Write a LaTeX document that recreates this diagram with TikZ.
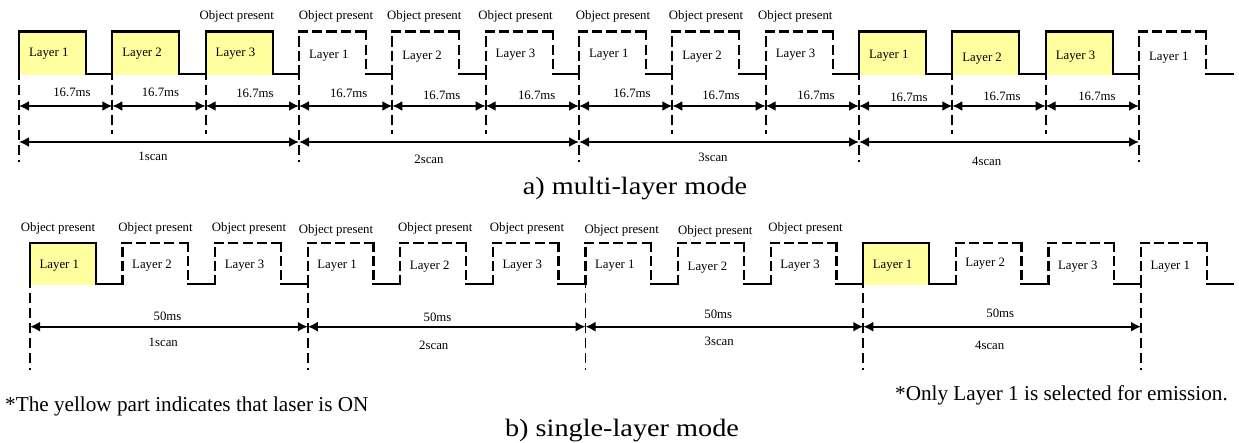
\documentclass[tikz,border=0pt]{standalone}
\usepackage{fontspec}
\usepackage{graphicx}
\setmainfont{Liberation Serif}
\usetikzlibrary{arrows.meta}
\definecolor{laseron}{RGB}{255,255,160}
\begin{document}
\begin{tikzpicture}[x=1pt,y=-1pt,
  wave/.style={line width=2.3pt, line join=miter, line cap=rect},
  dwave/.style={line width=2.3pt, dash pattern=on 7.8pt off 6.5pt, line cap=rect},
  guide/.style={line width=1.9pt, dash pattern=on 10pt off 5pt, dash phase=4pt},
  dim/.style={line width=1.8pt, {Latex[length=10pt,width=10pt]}-{Latex[length=10pt,width=10pt]}},
  small/.style={font=\fontsize{12.8}{15}\selectfont, inner sep=0pt, anchor=base},
  note/.style={font=\fontsize{21.2}{25}\selectfont, inner sep=0pt},
  capt/.style={font=\fontsize{25}{30}\selectfont, inner sep=0pt, anchor=base},
]
\useasboundingbox (0,0) rectangle (1239,443);

% ================= a) multi-layer mode =================
\def\ttop{31.5}
\def\tlow{74}
% yellow fills
\foreach \k in {0,1,2,9,10,11}{
  \pgfmathsetmacro\xs{19+93.333*\k}
  \pgfmathsetmacro\xe{\xs+67}
  \fill[laseron] (\xs,\ttop) rectangle (\xe,\tlow+1);
}
% guides (vertical dashed)
\foreach \k in {0,...,12}{
  \pgfmathsetmacro\xs{19+93.333*\k}
  \pgfmathsetmacro\ye{mod(\k,3)==0 ? 162 : 134}
  \coordinate (tg\k) at (\xs,\tlow);
  \coordinate (ta\k) at (\xs,106);
  \coordinate (tb\k) at (\xs,142);
  \draw[guide] (tg\k) -- (\xs,\ye);
}
% low solid segments
\foreach \k in {0,...,12}{
  \pgfmathsetmacro\xe{19+93.333*\k+67}
  \pgfmathsetmacro\xn{\k==12 ? 1233 : 19+93.333*(\k+1)}
  \draw[wave] (\xe,\tlow) -- (\xn,\tlow);
}
% solid (laser on) pulses
\foreach \k in {0,1,2,9,10,11}{
  \pgfmathsetmacro\xs{19+93.333*\k}
  \pgfmathsetmacro\xe{\xs+67}
  \draw[wave] (\xs,\tlow) -- (\xs,\ttop) -- (\xe,\ttop) -- (\xe,\tlow);
}
% dashed (laser off) pulses
\foreach \k in {3,4,5,6,7,8,12}{
  \pgfmathsetmacro\xs{19+93.333*\k}
  \pgfmathsetmacro\xe{\xs+67}
  \draw[dwave] (\xs,\tlow) -- (\xs,\ttop);
  \draw[dwave] (\xs,\ttop) -- (\xe,\ttop);
  \draw[dwave] (\xe,\ttop) -- (\xe,\tlow);
}
% dimension arrows
\foreach \k in {0,...,11}{
  \pgfmathtruncatemacro\kn{\k+1}
  \draw[dim] (ta\k) -- (ta\kn);
}
\draw[dim] (tb0) -- (tb3);
\draw[dim] (tb3) -- (tb6);
\draw[dim] (tb6) -- (tb9);
\draw[dim] (tb9) -- (tb12);
% layer labels
\foreach \k/\yc in {0/52.3,1/52.3,2/52.3,3/54,4/55,5/53.3,6/53.3,7/55,8/53.3,9/54.3,10/57.3,11/55.7,12/56}{
  \pgfmathsetmacro\xc{19+93.333*\k+33.5-3.7}
  \pgfmathtruncatemacro\ln{mod(\k,3)+1}
  \node[small] (tl\k) at (\xc,\yc+4.3) {Layer \ln};
}
% object present labels
\foreach \i/\xc in {3/236.7,4/336,5/424.3,6/515.6,7/613,8/706,9/795.3}{
  \node[small] (top\i) at (\xc,19.3) {Object present};
}
% 16.7ms labels
\foreach \k/\xc/\yc in {0/72/92,1/160.5/92,2/255/93,3/348.7/93,4/441.7/94.7,5/536.7/94.7,6/632/92.7,7/721/94.7,8/816/95,9/909/96.7,10/1002/96,11/1097/96}{
  \node[small] (tms\k) at (\xc,\yc+4.4) {16.7ms};
}
% scan labels
\foreach \i/\xc/\yc in {1/153/156.2,2/429/159.3,3/713/157.3,4/986.7/160.7}{
  \node[small] (tsc\i) at (\xc,\yc+4.5) {\i scan};
}
\node[capt] (capa) at (635,194.5) {\scalebox{1.13}[1]{a) multi-layer mode}};

% ================= b) single-layer mode =================
\def\btop{242.7}
\def\blow{284.3}
\foreach \k in {0,9}{
  \pgfmathsetmacro\xs{30+92.583*\k}
  \pgfmathsetmacro\xe{\xs+65.7}
  \fill[laseron] (\xs,\btop) rectangle (\xe,\blow+1);
}
\foreach \k in {0,3,6,9,12}{
  \pgfmathsetmacro\xs{30+92.583*\k}
  \coordinate (bg\k) at (\xs,\blow);
  \coordinate (ba\k) at (\xs,326.7);
  \draw[guide, dash phase=6.3pt] (bg\k) -- (\xs,370);
}
\foreach \k in {0,...,12}{
  \pgfmathsetmacro\xe{30+92.583*\k+65.7}
  \pgfmathsetmacro\xn{\k==12 ? 1233 : 30+92.583*(\k+1)}
  \draw[wave] (\xe,\blow) -- (\xn,\blow);
}
\foreach \k in {0,9}{
  \pgfmathsetmacro\xs{30+92.583*\k}
  \pgfmathsetmacro\xe{\xs+65.7}
  \draw[wave] (\xs,\blow) -- (\xs,\btop) -- (\xe,\btop) -- (\xe,\blow);
}
\foreach \k in {1,2,3,4,5,6,7,8,10,11,12}{
  \pgfmathsetmacro\xs{30+92.583*\k}
  \pgfmathsetmacro\xe{\xs+65.7}
  \draw[dwave] (\xs,\blow) -- (\xs,\btop);
  \draw[dwave] (\xs,\btop) -- (\xe,\btop);
  \draw[dwave] (\xe,\btop) -- (\xe,\blow);
}
\draw[dim] (ba0) -- (ba3);
\draw[dim] (ba3) -- (ba6);
\draw[dim] (ba6) -- (ba9);
\draw[dim] (ba9) -- (ba12);
\foreach \k/\yc in {0/264.7,1/264.7,2/264.7,3/264,4/265.3,5/264,6/264,7/266,8/264,9/264,10/262.7,11/265.3,12/265.3}{
  \pgfmathsetmacro\xc{30+92.583*\k+32.85-3.5}
  \pgfmathtruncatemacro\ln{mod(\k,3)+1}
  \node[small] (bl\k) at (\xc,\yc+4.3) {Layer \ln};
}
\foreach \i/\xc/\yc in {1/58/227.7,2/155.5/227.7,3/249/227.7,4/336/229,5/435.3/227.7,6/527/227.7,7/621.7/229,8/715.3/230,9/805.6/227.7}{
  \node[small] (bop\i) at (\xc,\yc+4.3) {Object present};
}
\foreach \i/\xc/\yc in {1/167.5/316,2/437.5/317.3,3/718.3/314,4/1000.3/312.7}{
  \node[small] (bms\i) at (\xc,\yc+4.4) {50ms};
}
\foreach \i/\xc/\yc in {1/163.3/342.3,2/433.8/345,3/719.2/341,4/989.7/345}{
  \node[small] (bsc\i) at (\xc,\yc+4.5) {\i scan};
}
\node[note, anchor=base west] (noteL) at (5,411.7) {*The yellow part indicates that laser is ON};
\node[note, anchor=base east] (noteR) at (1228,400.7) {*Only Layer 1 is selected for emission.};
\node[capt] (capb) at (622,436) {\scalebox{1.13}[1]{b) single-layer mode}};
\end{tikzpicture}
\end{document}
